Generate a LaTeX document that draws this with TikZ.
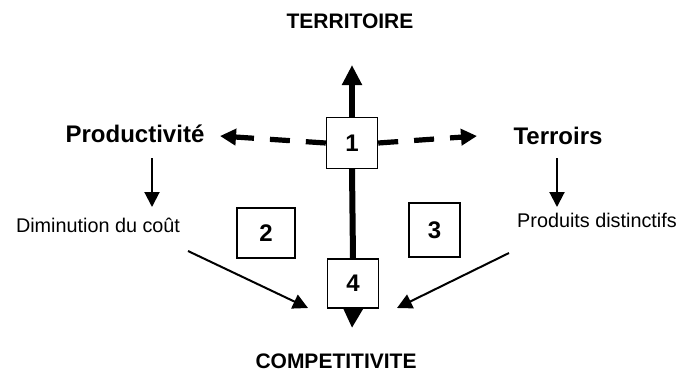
\documentclass[tikz,border=0pt]{standalone}
\usepackage{fontspec}
\setmainfont{Liberation Sans}
\usetikzlibrary{arrows.meta,positioning}

\begin{document}
\begin{tikzpicture}[
      x=0.5pt, y=-0.5pt,
      Axe/.style={line width=3pt, -{Triangle[length=10pt,width=9.5pt]}},
      Pointille/.style={line width=2.6pt, dash pattern=on 10pt off 8pt, -{Triangle[length=8pt,width=8pt]}},
      Fleche/.style={line width=1pt, -{Triangle[length=7.5pt,width=7.5pt]}},
      Boite/.style={draw, line width=0.7pt, fill=white, minimum width=25.5pt, minimum height=25.5pt, inner sep=0pt, font=\fontsize{12}{14}\selectfont\bfseries},
      Pole/.style={anchor=base, font=\fontsize{10.5}{12}\selectfont\bfseries},
      Cote/.style={anchor=base, font=\fontsize{12}{14}\selectfont\bfseries},
      Effet/.style={anchor=base, font=\fontsize{9.9}{12}\selectfont},
      ]
      \useasboundingbox (0,0) rectangle (680,372);

      \node[Pole] (territoire) at (350, 28) {TERRITOIRE};
      \node[Pole] (competitivite) at (336, 368) {COMPETITIVITE};

      \node[Cote] (productivite) at (135, 142) {Productivité};
      \node[Cote] (terroirs) at (558, 144) {Terroirs};
      \node[Effet] (diminution) at (98, 232) {Diminution du coût};
      \node[Effet] (produits) at (597, 227) {Produits distinctifs};

      \coordinate (haut) at (352, 65);
      \coordinate (bas) at (352, 328);
      \coordinate (gauche) at (220, 136);
      \coordinate (droite) at (477, 136);

      % boxes on the axes
      \node[Boite] (b1) at (352, 143) {1};
      \node[Boite, minimum width=29pt, minimum height=25pt] (b2) at (266, 233) {2};
      \node[Boite, minimum height=27pt] (b3) at (434.5, 230) {3};
      \node[Boite, minimum height=24.5pt] (b4) at (353, 283.5) {4};

      \draw[Axe] (b1.north) -- (haut);
      \draw[line width=3pt] (b1.south) -- (b4.north);
      \draw[Axe] (b4.south) -- (bas);

      \draw[Pointille] (b1.west) -- (gauche);
      \draw[Pointille] (b1.east) -- (droite);

      \coordinate (p1) at (152, 158);
      \coordinate (p2) at (152, 207);
      \coordinate (t1) at (557, 158);
      \coordinate (t2) at (557, 207);
      \draw[Fleche] (p1) -- (p2);
      \draw[Fleche] (t1) -- (t2);

      \coordinate (d1) at (188, 251);
      \coordinate (d2) at (308, 308);
      \coordinate (r1) at (509, 253);
      \coordinate (r2) at (397, 308);
      \draw[Fleche] (d1) -- (d2);
      \draw[Fleche] (r1) -- (r2);
    \end{tikzpicture}
\end{document}
